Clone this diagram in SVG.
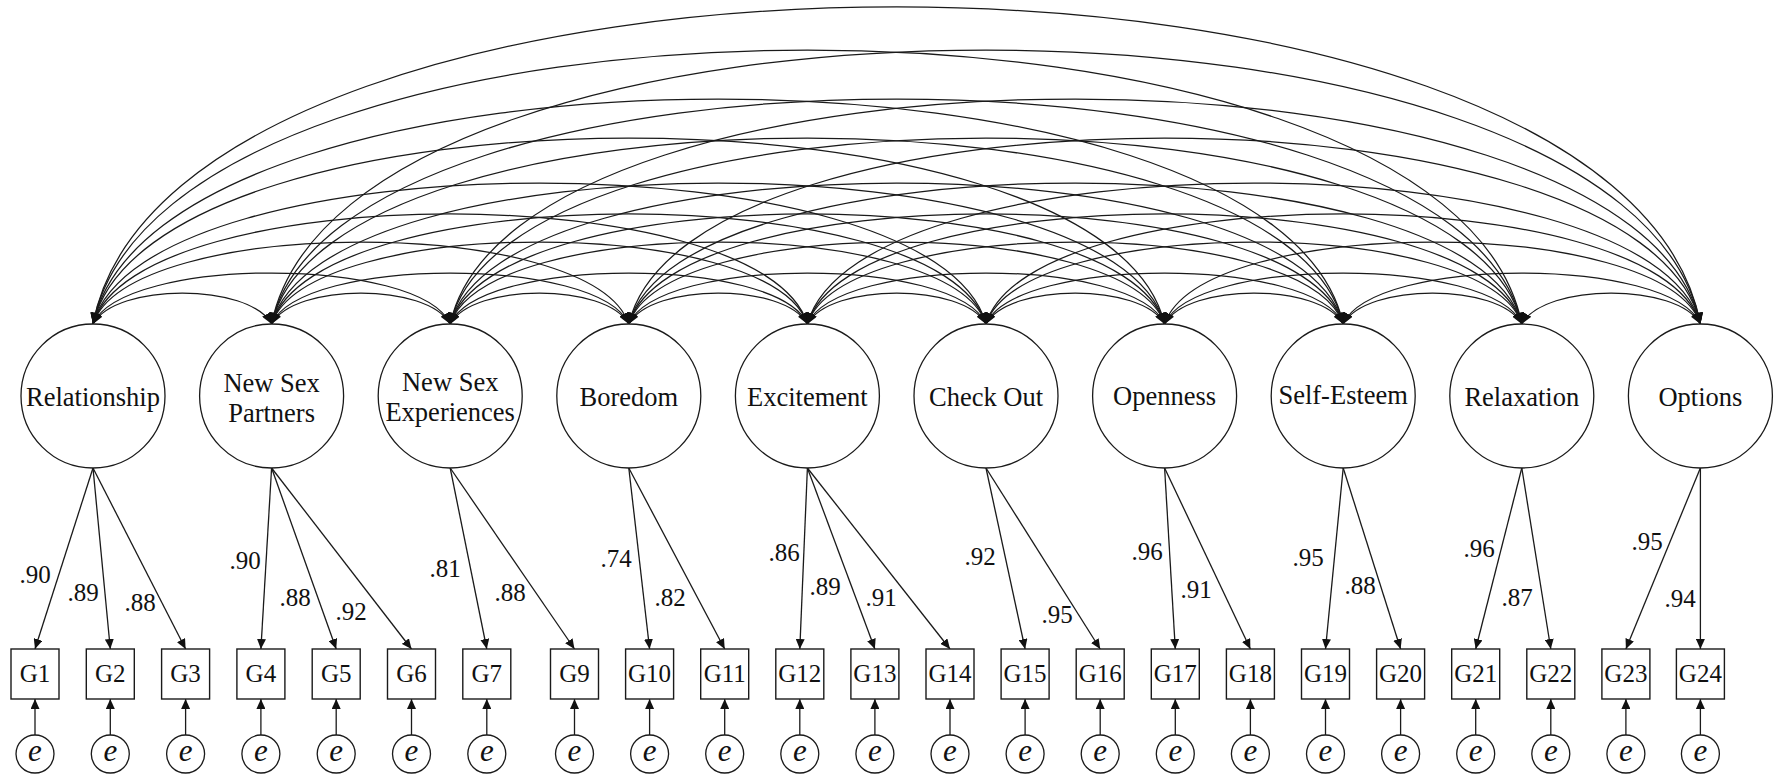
<svg xmlns="http://www.w3.org/2000/svg" width="1779" height="779" viewBox="0 0 1779 779">
<style>
.arc{fill:none;stroke:#1a1a1a;stroke-width:1.25;marker-start:url(#ahc);marker-end:url(#ahc)}
.ld{fill:none;stroke:#1a1a1a;stroke-width:1.3;marker-end:url(#ah)}
.lat{fill:#fff;stroke:#1a1a1a;stroke-width:1.3}
.box{fill:#fff;stroke:#1a1a1a;stroke-width:1.4}
.err{fill:#fff;stroke:#1a1a1a;stroke-width:1.3}
text{font-family:"Liberation Serif","Times New Roman",serif;fill:#111;text-anchor:middle}
.tl{font-size:26.5px}
.tg{font-size:25px}
.tn{font-size:25px}
.te{font-size:31px;font-style:italic}
</style>
<defs>
<marker id="ah" viewBox="0 0 10 9" refX="10" refY="4.5" markerWidth="10" markerHeight="9" markerUnits="userSpaceOnUse" orient="auto-start-reverse"><path d="M0,0 L10,4.5 L0,9 z" fill="#111"/></marker>
<marker id="ahc" viewBox="0 0 11 9.5" refX="11" refY="4.75" markerWidth="11" markerHeight="9.5" markerUnits="userSpaceOnUse" orient="auto-start-reverse"><path d="M0,0 L11,4.75 L0,9.5 z" fill="#111"/></marker>
</defs>
<rect width="1779" height="779" fill="#fff"/>
<g id="connectors">
<g id="covariances">
<path class="arc" d="M93,324 C116.1,282.7 248.5,282.7 271.6,324"/>
<path class="arc" d="M93,324 C123.3,256 419.9,256 450.2,324"/>
<path class="arc" d="M93,324 C130.4,214.7 591.4,214.7 628.8,324"/>
<path class="arc" d="M93,324 C137.6,177.3 762.8,177.3 807.4,324"/>
<path class="arc" d="M93,324 C144.7,136 934.3,136 986,324"/>
<path class="arc" d="M93,324 C151.9,76 1105.7,76 1164.6,324"/>
<path class="arc" d="M93,324 C159,24 1277.2,24 1343.2,324"/>
<path class="arc" d="M93,324 C166.2,-41.3 1448.6,-41.3 1521.8,324"/>
<path class="arc" d="M93,324 C173.3,-98.7 1620.1,-98.7 1700.4,324"/>
<path class="arc" d="M271.6,324 C294.7,282.7 427.1,282.7 450.2,324"/>
<path class="arc" d="M271.6,324 C301.9,256 598.5,256 628.8,324"/>
<path class="arc" d="M271.6,324 C309,214.7 770,214.7 807.4,324"/>
<path class="arc" d="M271.6,324 C316.2,177.3 941.4,177.3 986,324"/>
<path class="arc" d="M271.6,324 C323.3,136 1112.9,136 1164.6,324"/>
<path class="arc" d="M271.6,324 C330.5,76 1284.3,76 1343.2,324"/>
<path class="arc" d="M271.6,324 C337.6,24 1455.8,24 1521.8,324"/>
<path class="arc" d="M271.6,324 C344.8,-41.3 1627.2,-41.3 1700.4,324"/>
<path class="arc" d="M450.2,324 C473.3,282.7 605.7,282.7 628.8,324"/>
<path class="arc" d="M450.2,324 C480.5,256 777.1,256 807.4,324"/>
<path class="arc" d="M450.2,324 C487.6,214.7 948.6,214.7 986,324"/>
<path class="arc" d="M450.2,324 C494.8,177.3 1120,177.3 1164.6,324"/>
<path class="arc" d="M450.2,324 C501.9,136 1291.5,136 1343.2,324"/>
<path class="arc" d="M450.2,324 C509.1,76 1462.9,76 1521.8,324"/>
<path class="arc" d="M450.2,324 C516.2,24 1634.4,24 1700.4,324"/>
<path class="arc" d="M628.8,324 C651.9,282.7 784.3,282.7 807.4,324"/>
<path class="arc" d="M628.8,324 C659.1,256 955.7,256 986,324"/>
<path class="arc" d="M628.8,324 C666.2,214.7 1127.2,214.7 1164.6,324"/>
<path class="arc" d="M628.8,324 C673.4,177.3 1298.6,177.3 1343.2,324"/>
<path class="arc" d="M628.8,324 C680.5,136 1470.1,136 1521.8,324"/>
<path class="arc" d="M628.8,324 C687.7,76 1641.5,76 1700.4,324"/>
<path class="arc" d="M807.4,324 C830.5,282.7 962.9,282.7 986,324"/>
<path class="arc" d="M807.4,324 C837.7,256 1134.3,256 1164.6,324"/>
<path class="arc" d="M807.4,324 C844.8,214.7 1305.8,214.7 1343.2,324"/>
<path class="arc" d="M807.4,324 C852,177.3 1477.2,177.3 1521.8,324"/>
<path class="arc" d="M807.4,324 C859.1,136 1648.7,136 1700.4,324"/>
<path class="arc" d="M986,324 C1009.1,282.7 1141.5,282.7 1164.6,324"/>
<path class="arc" d="M986,324 C1016.3,256 1312.9,256 1343.2,324"/>
<path class="arc" d="M986,324 C1023.4,214.7 1484.4,214.7 1521.8,324"/>
<path class="arc" d="M986,324 C1030.6,177.3 1655.8,177.3 1700.4,324"/>
<path class="arc" d="M1164.6,324 C1187.7,282.7 1320.1,282.7 1343.2,324"/>
<path class="arc" d="M1164.6,324 C1194.9,256 1491.5,256 1521.8,324"/>
<path class="arc" d="M1164.6,324 C1202,214.7 1663,214.7 1700.4,324"/>
<path class="arc" d="M1343.2,324 C1366.3,282.7 1498.7,282.7 1521.8,324"/>
<path class="arc" d="M1343.2,324 C1373.5,256 1670.1,256 1700.4,324"/>
<path class="arc" d="M1521.8,324 C1544.9,282.7 1677.3,282.7 1700.4,324"/>
</g>
<g id="loadings">
<path class="ld" d="M93,468 L35,649"/>
<path class="ld" d="M93,468 L110.3,649"/>
<path class="ld" d="M93,468 L185.6,649"/>
<path class="ld" d="M271.6,468 L260.9,649"/>
<path class="ld" d="M271.6,468 L336.2,649"/>
<path class="ld" d="M271.6,468 L411.5,649"/>
<path class="ld" d="M450.2,468 L486.8,649"/>
<path class="ld" d="M450.2,468 L574.5,649"/>
<path class="ld" d="M628.8,468 L649.6,649"/>
<path class="ld" d="M628.8,468 L724.7,649"/>
<path class="ld" d="M807.4,468 L799.8,649"/>
<path class="ld" d="M807.4,468 L874.9,649"/>
<path class="ld" d="M807.4,468 L950,649"/>
<path class="ld" d="M986,468 L1025.1,649"/>
<path class="ld" d="M986,468 L1100.2,649"/>
<path class="ld" d="M1164.6,468 L1175.3,649"/>
<path class="ld" d="M1164.6,468 L1250.4,649"/>
<path class="ld" d="M1343.2,468 L1325.5,649"/>
<path class="ld" d="M1343.2,468 L1400.6,649"/>
<path class="ld" d="M1521.8,468 L1475.7,649"/>
<path class="ld" d="M1521.8,468 L1550.8,649"/>
<path class="ld" d="M1700.4,468 L1625.9,649"/>
<path class="ld" d="M1700.4,468 L1700.4,649"/>
</g>
<g id="errors">
<path class="ld" d="M35,735 L35,699"/>
<path class="ld" d="M110.3,735 L110.3,699"/>
<path class="ld" d="M185.6,735 L185.6,699"/>
<path class="ld" d="M260.9,735 L260.9,699"/>
<path class="ld" d="M336.2,735 L336.2,699"/>
<path class="ld" d="M411.5,735 L411.5,699"/>
<path class="ld" d="M486.8,735 L486.8,699"/>
<path class="ld" d="M574.5,735 L574.5,699"/>
<path class="ld" d="M649.6,735 L649.6,699"/>
<path class="ld" d="M724.7,735 L724.7,699"/>
<path class="ld" d="M799.8,735 L799.8,699"/>
<path class="ld" d="M874.9,735 L874.9,699"/>
<path class="ld" d="M950,735 L950,699"/>
<path class="ld" d="M1025.1,735 L1025.1,699"/>
<path class="ld" d="M1100.2,735 L1100.2,699"/>
<path class="ld" d="M1175.3,735 L1175.3,699"/>
<path class="ld" d="M1250.4,735 L1250.4,699"/>
<path class="ld" d="M1325.5,735 L1325.5,699"/>
<path class="ld" d="M1400.6,735 L1400.6,699"/>
<path class="ld" d="M1475.7,735 L1475.7,699"/>
<path class="ld" d="M1550.8,735 L1550.8,699"/>
<path class="ld" d="M1625.9,735 L1625.9,699"/>
<path class="ld" d="M1700.4,735 L1700.4,699"/>
</g>
<g id="loading-labels">
<text class="tn" x="35" y="583">.90</text>
<text class="tn" x="83" y="601">.89</text>
<text class="tn" x="140" y="611">.88</text>
<text class="tn" x="245" y="569">.90</text>
<text class="tn" x="295" y="606">.88</text>
<text class="tn" x="351" y="620">.92</text>
<text class="tn" x="445" y="577">.81</text>
<text class="tn" x="510" y="601">.88</text>
<text class="tn" x="616" y="567">.74</text>
<text class="tn" x="670" y="606">.82</text>
<text class="tn" x="784" y="561">.86</text>
<text class="tn" x="825" y="595">.89</text>
<text class="tn" x="881" y="606">.91</text>
<text class="tn" x="980" y="565">.92</text>
<text class="tn" x="1057" y="623">.95</text>
<text class="tn" x="1147" y="560">.96</text>
<text class="tn" x="1196" y="598">.91</text>
<text class="tn" x="1308" y="566">.95</text>
<text class="tn" x="1360" y="594">.88</text>
<text class="tn" x="1479" y="557">.96</text>
<text class="tn" x="1517" y="606">.87</text>
<text class="tn" x="1647" y="550">.95</text>
<text class="tn" x="1680" y="607">.94</text>
</g>
</g>
<g id="latent-Relationship"><circle class="lat" cx="93" cy="396" r="72"/><text class="tl" x="93" y="406">Relationship</text></g>
<g id="latent-NewSexPartners"><circle class="lat" cx="271.6" cy="396" r="72"/><text class="tl" x="271.6" y="392">New Sex</text><text class="tl" x="271.6" y="422">Partners</text></g>
<g id="latent-NewSexExperiences"><circle class="lat" cx="450.2" cy="396" r="72"/><text class="tl" x="450.2" y="391">New Sex</text><text class="tl" x="450.2" y="421">Experiences</text></g>
<g id="latent-Boredom"><circle class="lat" cx="628.8" cy="396" r="72"/><text class="tl" x="628.8" y="406">Boredom</text></g>
<g id="latent-Excitement"><circle class="lat" cx="807.4" cy="396" r="72"/><text class="tl" x="807.4" y="406">Excitement</text></g>
<g id="latent-CheckOut"><circle class="lat" cx="986" cy="396" r="72"/><text class="tl" x="986" y="406">Check Out</text></g>
<g id="latent-Openness"><circle class="lat" cx="1164.6" cy="396" r="72"/><text class="tl" x="1164.6" y="405">Openness</text></g>
<g id="latent-SelfEsteem"><circle class="lat" cx="1343.2" cy="396" r="72"/><text class="tl" x="1343.2" y="404">Self-Esteem</text></g>
<g id="latent-Relaxation"><circle class="lat" cx="1521.8" cy="396" r="72"/><text class="tl" x="1521.8" y="406">Relaxation</text></g>
<g id="latent-Options"><circle class="lat" cx="1700.4" cy="396" r="72"/><text class="tl" x="1700.4" y="406">Options</text></g>
<g id="obs-G1"><rect class="box" x="11" y="649" width="48" height="50"/><text class="tg" x="35" y="682">G1</text></g>
<g id="obs-G2"><rect class="box" x="86.3" y="649" width="48" height="50"/><text class="tg" x="110.3" y="682">G2</text></g>
<g id="obs-G3"><rect class="box" x="161.6" y="649" width="48" height="50"/><text class="tg" x="185.6" y="682">G3</text></g>
<g id="obs-G4"><rect class="box" x="236.9" y="649" width="48" height="50"/><text class="tg" x="260.9" y="682">G4</text></g>
<g id="obs-G5"><rect class="box" x="312.2" y="649" width="48" height="50"/><text class="tg" x="336.2" y="682">G5</text></g>
<g id="obs-G6"><rect class="box" x="387.5" y="649" width="48" height="50"/><text class="tg" x="411.5" y="682">G6</text></g>
<g id="obs-G7"><rect class="box" x="462.8" y="649" width="48" height="50"/><text class="tg" x="486.8" y="682">G7</text></g>
<g id="obs-G9"><rect class="box" x="550.5" y="649" width="48" height="50"/><text class="tg" x="574.5" y="682">G9</text></g>
<g id="obs-G10"><rect class="box" x="625.6" y="649" width="48" height="50"/><text class="tg" x="649.6" y="682">G10</text></g>
<g id="obs-G11"><rect class="box" x="700.7" y="649" width="48" height="50"/><text class="tg" x="724.7" y="682">G11</text></g>
<g id="obs-G12"><rect class="box" x="775.8" y="649" width="48" height="50"/><text class="tg" x="799.8" y="682">G12</text></g>
<g id="obs-G13"><rect class="box" x="850.9" y="649" width="48" height="50"/><text class="tg" x="874.9" y="682">G13</text></g>
<g id="obs-G14"><rect class="box" x="926" y="649" width="48" height="50"/><text class="tg" x="950" y="682">G14</text></g>
<g id="obs-G15"><rect class="box" x="1001.1" y="649" width="48" height="50"/><text class="tg" x="1025.1" y="682">G15</text></g>
<g id="obs-G16"><rect class="box" x="1076.2" y="649" width="48" height="50"/><text class="tg" x="1100.2" y="682">G16</text></g>
<g id="obs-G17"><rect class="box" x="1151.3" y="649" width="48" height="50"/><text class="tg" x="1175.3" y="682">G17</text></g>
<g id="obs-G18"><rect class="box" x="1226.4" y="649" width="48" height="50"/><text class="tg" x="1250.4" y="682">G18</text></g>
<g id="obs-G19"><rect class="box" x="1301.5" y="649" width="48" height="50"/><text class="tg" x="1325.5" y="682">G19</text></g>
<g id="obs-G20"><rect class="box" x="1376.6" y="649" width="48" height="50"/><text class="tg" x="1400.6" y="682">G20</text></g>
<g id="obs-G21"><rect class="box" x="1451.7" y="649" width="48" height="50"/><text class="tg" x="1475.7" y="682">G21</text></g>
<g id="obs-G22"><rect class="box" x="1526.8" y="649" width="48" height="50"/><text class="tg" x="1550.8" y="682">G22</text></g>
<g id="obs-G23"><rect class="box" x="1601.9" y="649" width="48" height="50"/><text class="tg" x="1625.9" y="682">G23</text></g>
<g id="obs-G24"><rect class="box" x="1676.4" y="649" width="48" height="50"/><text class="tg" x="1700.4" y="682">G24</text></g>
<g id="err-G1"><circle class="err" cx="35" cy="754" r="19"/><text class="te" x="35" y="761">e</text></g>
<g id="err-G2"><circle class="err" cx="110.3" cy="754" r="19"/><text class="te" x="110.3" y="761">e</text></g>
<g id="err-G3"><circle class="err" cx="185.6" cy="754" r="19"/><text class="te" x="185.6" y="761">e</text></g>
<g id="err-G4"><circle class="err" cx="260.9" cy="754" r="19"/><text class="te" x="260.9" y="761">e</text></g>
<g id="err-G5"><circle class="err" cx="336.2" cy="754" r="19"/><text class="te" x="336.2" y="761">e</text></g>
<g id="err-G6"><circle class="err" cx="411.5" cy="754" r="19"/><text class="te" x="411.5" y="761">e</text></g>
<g id="err-G7"><circle class="err" cx="486.8" cy="754" r="19"/><text class="te" x="486.8" y="761">e</text></g>
<g id="err-G9"><circle class="err" cx="574.5" cy="754" r="19"/><text class="te" x="574.5" y="761">e</text></g>
<g id="err-G10"><circle class="err" cx="649.6" cy="754" r="19"/><text class="te" x="649.6" y="761">e</text></g>
<g id="err-G11"><circle class="err" cx="724.7" cy="754" r="19"/><text class="te" x="724.7" y="761">e</text></g>
<g id="err-G12"><circle class="err" cx="799.8" cy="754" r="19"/><text class="te" x="799.8" y="761">e</text></g>
<g id="err-G13"><circle class="err" cx="874.9" cy="754" r="19"/><text class="te" x="874.9" y="761">e</text></g>
<g id="err-G14"><circle class="err" cx="950" cy="754" r="19"/><text class="te" x="950" y="761">e</text></g>
<g id="err-G15"><circle class="err" cx="1025.1" cy="754" r="19"/><text class="te" x="1025.1" y="761">e</text></g>
<g id="err-G16"><circle class="err" cx="1100.2" cy="754" r="19"/><text class="te" x="1100.2" y="761">e</text></g>
<g id="err-G17"><circle class="err" cx="1175.3" cy="754" r="19"/><text class="te" x="1175.3" y="761">e</text></g>
<g id="err-G18"><circle class="err" cx="1250.4" cy="754" r="19"/><text class="te" x="1250.4" y="761">e</text></g>
<g id="err-G19"><circle class="err" cx="1325.5" cy="754" r="19"/><text class="te" x="1325.5" y="761">e</text></g>
<g id="err-G20"><circle class="err" cx="1400.6" cy="754" r="19"/><text class="te" x="1400.6" y="761">e</text></g>
<g id="err-G21"><circle class="err" cx="1475.7" cy="754" r="19"/><text class="te" x="1475.7" y="761">e</text></g>
<g id="err-G22"><circle class="err" cx="1550.8" cy="754" r="19"/><text class="te" x="1550.8" y="761">e</text></g>
<g id="err-G23"><circle class="err" cx="1625.9" cy="754" r="19"/><text class="te" x="1625.9" y="761">e</text></g>
<g id="err-G24"><circle class="err" cx="1700.4" cy="754" r="19"/><text class="te" x="1700.4" y="761">e</text></g>
</svg>
